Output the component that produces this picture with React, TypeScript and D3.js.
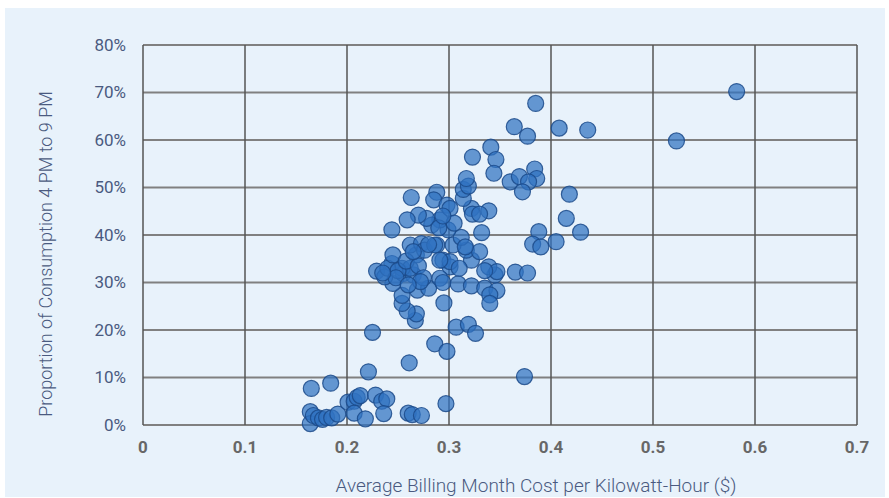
import React from "react";
import * as d3 from "d3";

const xVals: number[] = [
  0.165, 0.184, 0.164, 0.164, 0.167, 0.172, 0.176, 0.180, 0.185, 0.191,
  0.201, 0.207, 0.210, 0.213, 0.207, 0.218, 0.228, 0.234, 0.239, 0.236,
  0.260, 0.264, 0.273, 0.297, 0.221, 0.225, 0.261, 0.286, 0.298, 0.307,
  0.319, 0.326, 0.374, 0.267, 0.268, 0.259, 0.254, 0.254, 0.269, 0.280,
  0.245, 0.229, 0.237, 0.255, 0.265, 0.244, 0.254, 0.240, 0.262, 0.245,
  0.268, 0.262, 0.273, 0.276, 0.288, 0.294, 0.301, 0.291, 0.295, 0.294,
  0.309, 0.322, 0.335, 0.347, 0.340, 0.340, 0.345, 0.339, 0.347, 0.365,
  0.377, 0.322, 0.301, 0.291, 0.286, 0.317, 0.304, 0.312, 0.332, 0.299,
  0.291, 0.283, 0.278, 0.270, 0.259, 0.244, 0.263, 0.288, 0.285, 0.298,
  0.301, 0.322, 0.339, 0.323, 0.330, 0.314, 0.314, 0.319, 0.317, 0.323,
  0.341, 0.346, 0.344, 0.360, 0.369, 0.384, 0.386, 0.378, 0.372, 0.418,
  0.385, 0.364, 0.377, 0.408, 0.436, 0.415, 0.429, 0.388, 0.405, 0.382,
  0.390, 0.523, 0.582, 0.250, 0.258, 0.270, 0.275, 0.265, 0.280, 0.272,
  0.248, 0.235, 0.260, 0.305, 0.290, 0.294, 0.310, 0.330, 0.316, 0.335,
];

const yVals: number[] = [
  7.7, 8.8, 2.8, 0.3, 2.0, 1.5, 1.2, 1.6, 1.5, 2.3,
  4.8, 5.0, 5.8, 6.2, 2.5, 1.3, 6.3, 5.0, 5.5, 2.4,
  2.5, 2.2, 2.0, 4.5, 11.2, 19.5, 13.1, 17.1, 15.5, 20.6,
  21.2, 19.3, 10.2, 22.0, 23.4, 24.0, 25.6, 27.3, 28.4, 28.8,
  29.8, 32.4, 31.2, 31.9, 31.6, 34.0, 33.0, 33.0, 33.0, 35.8,
  35.8, 37.9, 38.2, 36.8, 37.9, 34.7, 33.3, 30.9, 25.7, 30.0,
  29.7, 29.3, 28.8, 28.3, 27.4, 25.6, 31.6, 33.3, 32.3, 32.2,
  32.0, 34.7, 34.4, 34.7, 37.9, 36.8, 37.9, 39.5, 40.5, 41.1,
  43.2, 42.1, 43.5, 44.2, 43.2, 41.1, 47.9, 49.0, 47.4, 46.3,
  45.6, 45.6, 45.1, 44.4, 44.4, 47.7, 49.6, 50.3, 51.9, 56.4,
  58.5, 55.9, 53.0, 51.2, 52.3, 53.9, 51.9, 51.2, 49.1, 48.6,
  67.7, 62.8, 60.8, 62.5, 62.1, 43.5, 40.6, 40.7, 38.6, 38.1,
  37.5, 59.8, 70.2, 32.5, 34.5, 33.5, 31.0, 36.5, 38.0, 30.2,
  31.0, 32.0, 29.5, 42.5, 41.5, 44.0, 33.0, 36.5, 37.5, 32.5,
];

const xTicks: number[] = [0, 0.1, 0.2, 0.3, 0.4, 0.5, 0.6, 0.7];
const yTicks: number[] = [0, 10, 20, 30, 40, 50, 60, 70, 80];
const xTitle = "Average Billing Month Cost per Kilowatt-Hour ($)";
const yTitle = "Proportion of Consumption 4 PM to 9 PM";

export default function App() {
  const W = 889;
  const H = 498;
  const left = 143, right = 857, top = 45, bottom = 425;
  const x = d3.scaleLinear().domain([0, 0.7]).range([left, right]);
  const y = d3.scaleLinear().domain([0, 80]).range([bottom, top]);
  const pts = d3.zip(xVals, yVals);
  const font = "Roboto, 'Noto Sans', sans-serif";
  return (
    <svg width={W} height={H} style={{ position: "absolute", left: 0, top: 0 }}>
      <rect x={0} y={0} width={W} height={H} fill="#ffffff" />
      <rect x={5} y={8} width={880} height={489} fill="#e8f2fb" />
      {yTicks.map((t) => (
        <line key={"h" + t} x1={left} x2={right} y1={y(t)} y2={y(t)} stroke="#808080" strokeWidth={2} />
      ))}
      {xTicks.map((t) => (
        <line key={"v" + t} x1={x(t)} x2={x(t)} y1={top} y2={bottom} stroke="#555" strokeWidth={1.5} />
      ))}
      {yTicks.map((t) => (
        <text key={"yl" + t} x={126} y={y(t)} dy="0.35em" textAnchor="end" fontFamily={font} fontSize={17} fontWeight={400} fill="#4a5a80">
          {t + "%"}
        </text>
      ))}
      {xTicks.map((t) => (
        <text key={"xl" + t} x={x(t)} y={447} dy="0.35em" textAnchor="middle" fontFamily={font} fontSize={17} fontWeight={700} fill="#676767">
          {d3.format("")(t)}
        </text>
      ))}
      <text x={536} y={485} dy="0.35em" textAnchor="middle" fontFamily={font} fontSize={19} fontWeight={300} fill="#4a5a80">
        {xTitle}
      </text>
      <text transform={`translate(46,254) rotate(-90)`} dy="0.35em" textAnchor="middle" fontFamily={font} fontSize={18} fontWeight={300} fill="#4a5a80">
        {yTitle}
      </text>
      {pts.map(([a, b], i) => (
        <circle key={i} cx={x(a)} cy={y(b)} r={8} fill="#2f72c0" fillOpacity={0.72} stroke="#1b4a8a" strokeOpacity={0.85} strokeWidth={1.2} />
      ))}
    </svg>
  );
}
